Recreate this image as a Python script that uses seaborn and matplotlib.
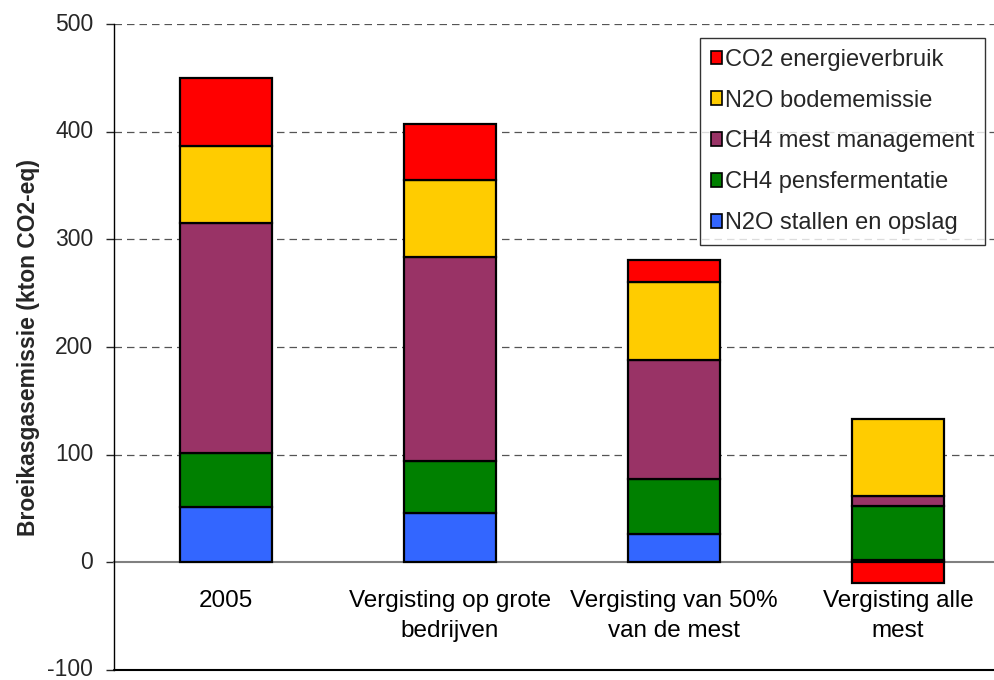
import matplotlib
matplotlib.use("Agg")
import matplotlib.pyplot as plt
import seaborn as sns
import numpy as np
import pandas as pd
from matplotlib.patches import Patch

categories = ["2005", "Vergisting op grote\nbedrijven", "Vergisting van 50%\nvan de mest", "Vergisting alle\nmest"]
series_names = ["N2O stallen en opslag", "CH4 pensfermentatie", "CH4 mest management",
                "N2O bodememissie", "CO2 energieverbruik"]
n2o_stallen = [51, 46, 26, 2]
ch4_pens = [50.5, 48, 51.5, 50]
ch4_mest = [213.5, 189.5, 110.5, 10]
n2o_bodem = [72, 72, 72, 71]
co2_energie = [62.5, 51.5, 21, -19]
colors = ["#3366FF", "#008000", "#993366", "#FFCC00", "#FF0000"]
y_ticks = [-100, 0, 100, 200, 300, 400, 500]
y_label = "Broeikasgasemissie (kton CO2-eq)"

sns.set_style("white")
plt.rcParams["font.family"] = ["Liberation Sans", "DejaVu Sans"]

fig = plt.figure(figsize=(9.95, 6.8), dpi=100)
ax = fig.add_axes([114 / 995, 10 / 680, (995 - 114) / 995, (670 - 24) / 680])

all_series = [n2o_stallen, ch4_pens, ch4_mest, n2o_bodem, co2_energie]
pos_base = np.zeros(len(categories))
neg_base = np.zeros(len(categories))
for name, vals, col in zip(series_names, all_series, colors):
    vals = np.array(vals, dtype=float)
    bottoms = np.where(vals >= 0, pos_base, neg_base)
    df = pd.DataFrame({"cat": categories, "val": vals})
    sns.barplot(data=df, x="cat", y="val", order=categories, bottom=bottoms,
                color=col, saturation=1, width=0.41, edgecolor="black",
                linewidth=1.6, errorbar=None, ax=ax, zorder=3)
    pos_base = np.where(vals >= 0, pos_base + vals, pos_base)
    neg_base = np.where(vals < 0, neg_base + vals, neg_base)

ax.set_ylim(-100, 500)
ax.set_xlim(-0.5, (995 - 114) / 224 - 0.5)
ax.set_yticks(y_ticks)
ax.set_yticklabels([str(t) for t in y_ticks], fontsize=16.5, va="center")
for y in [100, 200, 300, 400, 500]:
    ax.axhline(y, color="#555555", lw=0.9, ls=(0, (6, 4)), zorder=1)
ax.axhline(-100, color="black", lw=1.5, zorder=4, clip_on=False)

ax.spines["bottom"].set_position(("data", 0))
ax.spines["bottom"].set_color("#808080")
ax.spines["bottom"].set_linewidth(1.5)
ax.spines["bottom"].set_zorder(2)
ax.spines["top"].set_visible(False)
ax.spines["right"].set_visible(False)
ax.spines["left"].set_color("black")
ax.spines["left"].set_linewidth(1.0)

ax.set_xticks(range(len(categories)))
ax.set_xticklabels(categories, fontsize=17.5, linespacing=1.45)
ax.set_xticks([0.5, 1.5, 2.5], minor=True)
ax.tick_params(axis="x", which="major", length=0, pad=20, colors="black")
ax.tick_params(axis="x", which="minor", length=6, width=1, direction="out", color="black")
ax.tick_params(axis="y", which="major", length=6, width=1, direction="out", left=True, pad=9)
ax.set_xlabel("")
ax.set_ylabel(y_label, fontsize=16.5, fontweight="bold", labelpad=5)

handles = [Patch(facecolor=c, edgecolor="black", linewidth=1.2, label=n)
           for n, c in zip(series_names, colors)][::-1]
leg = ax.legend(handles=handles, loc="upper left", bbox_to_anchor=(700 / 995, (680 - 38) / 680),
                bbox_transform=fig.transFigure, fontsize=17, frameon=True, fancybox=False,
                edgecolor="black", handlelength=0.5, handleheight=0.5, handletextpad=0.12,
                labelspacing=0.8, borderpad=0.45, borderaxespad=0)
leg.get_frame().set_linewidth(1.0)
leg.set_zorder(5)

fig.savefig("out.png", dpi=100)
